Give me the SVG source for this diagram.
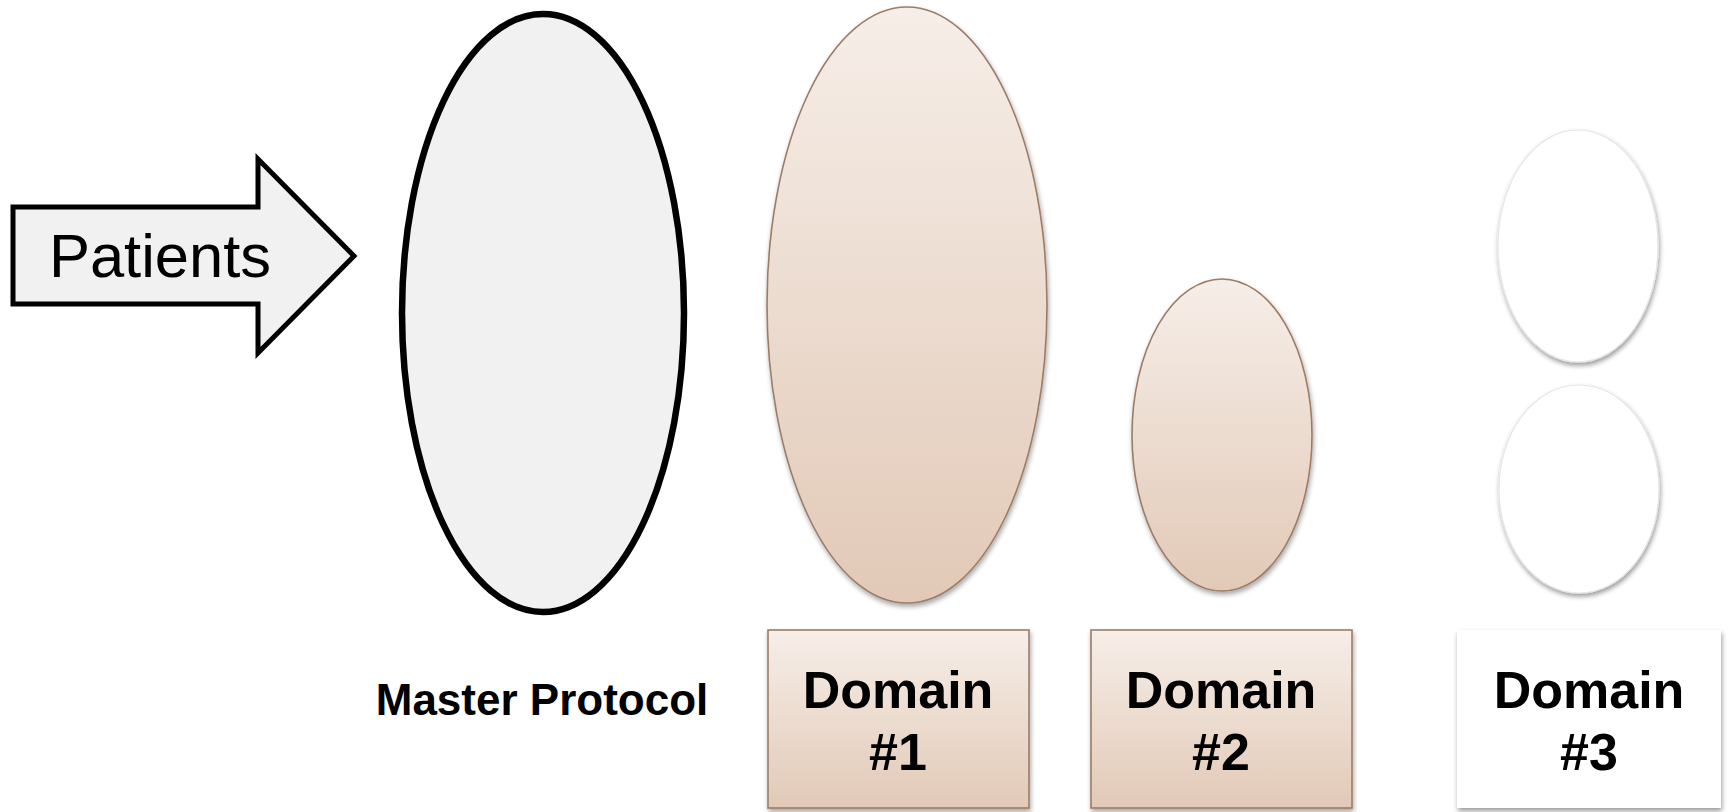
<svg xmlns="http://www.w3.org/2000/svg" width="1731" height="812" viewBox="0 0 1731 812">
  <defs>
    <linearGradient id="tan" x1="0" y1="0" x2="0" y2="1">
      <stop offset="0" stop-color="#f6eee8"/>
      <stop offset="1" stop-color="#e2c9b7"/>
    </linearGradient>
    <filter id="shadow" x="-10%" y="-10%" width="120%" height="125%">
      <feGaussianBlur in="SourceAlpha" stdDeviation="2.5"/>
      <feOffset dx="1" dy="3" result="b"/>
      <feComponentTransfer><feFuncA type="linear" slope="0.35"/></feComponentTransfer>
      <feMerge><feMergeNode/><feMergeNode in="SourceGraphic"/></feMerge>
    </filter>
    <filter id="softEdge" x="-10%" y="-10%" width="120%" height="125%">
      <feGaussianBlur in="SourceAlpha" stdDeviation="2.5"/>
      <feOffset dx="1" dy="3"/>
      <feComponentTransfer><feFuncA type="linear" slope="0.4"/></feComponentTransfer>
      <feMerge><feMergeNode/><feMergeNode in="SourceGraphic"/></feMerge>
    </filter>
  </defs>
  <style>
    .tan { fill: url(#tan); stroke: #9c7c66; stroke-width: 1.6; }
    .blank { fill: #ffffff; stroke: #e6e6e6; stroke-width: 1.2; }
    .lbl { font-family: "Liberation Sans", Arial, sans-serif; font-weight: bold; fill: #000; text-anchor: middle; }
  </style>
  <rect width="1731" height="812" fill="#ffffff"/>

  <!-- incoming patients arrow -->
  <g id="patients">
    <polygon points="13,207 258,207 258,159 354,256 258,353 258,304 13,304" fill="#f1f1f1" stroke="#000" stroke-width="5" stroke-linejoin="miter"/>
    <text x="160" y="277" font-family="'Liberation Sans', Arial, sans-serif" font-size="61.5" fill="#000" text-anchor="middle">Patients</text>
  </g>

  <!-- master protocol -->
  <g id="master">
    <ellipse cx="543" cy="313" rx="141" ry="299" fill="#f1f1f1" stroke="#000" stroke-width="6.5"/>
    <text class="lbl" x="542" y="715" font-size="44">Master Protocol</text>
  </g>

  <!-- domain 1 -->
  <g id="domain1" filter="url(#shadow)">
    <ellipse class="tan" cx="907" cy="305" rx="140" ry="298"/>
    <rect class="tan" x="768" y="630" width="261" height="178"/>
    <text class="lbl" x="898" y="708" font-size="52">Domain</text>
    <text class="lbl" x="898" y="770" font-size="52">#1</text>
  </g>

  <!-- domain 2 -->
  <g id="domain2" filter="url(#shadow)">
    <ellipse class="tan" cx="1222" cy="435" rx="90" ry="156"/>
    <rect class="tan" x="1091" y="630" width="261" height="178"/>
    <text class="lbl" x="1221" y="708" font-size="52">Domain</text>
    <text class="lbl" x="1221" y="770" font-size="52">#2</text>
  </g>

  <!-- domain 3 -->
  <g id="domain3" filter="url(#softEdge)">
    <ellipse class="blank" cx="1578" cy="246" rx="80" ry="116"/>
    <ellipse class="blank" cx="1579" cy="489" rx="80" ry="104"/>
    <rect x="1457" y="630" width="264" height="178" fill="#ffffff"/>
    <text class="lbl" x="1589" y="708" font-size="52">Domain</text>
    <text class="lbl" x="1589" y="770" font-size="52">#3</text>
  </g>

  <g id="connectors"/>
</svg>
